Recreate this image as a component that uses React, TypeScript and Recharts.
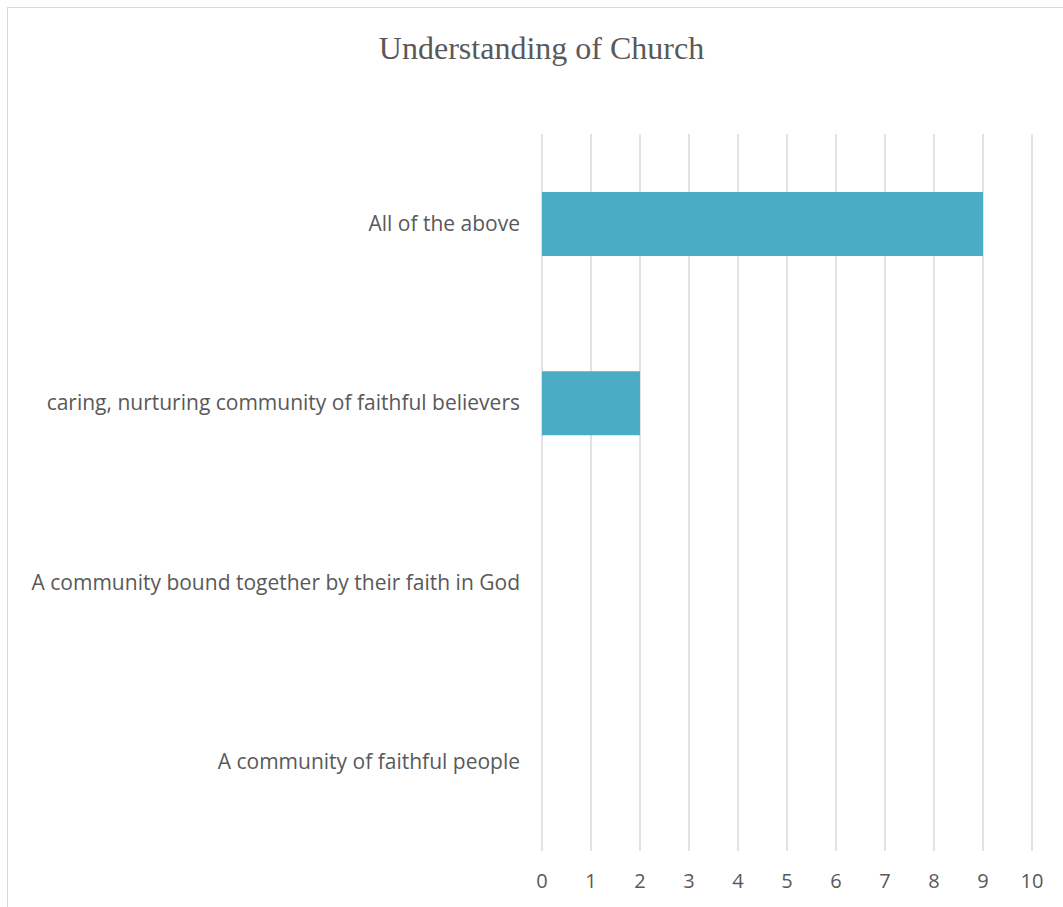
import { BarChart, Bar, XAxis, YAxis, CartesianGrid } from 'recharts';

// categories listed top to bottom as they appear in the chart
const categories = [
  'All of the above',
  'caring, nurturing community of faithful believers',
  'A community bound together by their faith in God',
  'A community of faithful people',
];
const counts = [9, 2, 0, 0];
const xTicks = [0, 1, 2, 3, 4, 5, 6, 7, 8, 9, 10];

const data = categories.map((name, i) => ({ name, value: counts[i] }));

const TEXT = '#595959';
const GRID = '#d9d9d9';
const BAR = '#4bacc6';

export default function App() {
  return (
    <div style={{ position: 'fixed', left: 0, top: 0, width: 1063, height: 907, overflow: 'hidden', background: '#fff' }}>
      <div style={{ position: 'absolute', left: 7, top: 7, width: 1100, height: 950, border: `1px solid ${GRID}` }}>
        <div
          style={{
            position: 'absolute',
            left: 0,
            top: 22,
            width: 1067,
            textAlign: 'center',
            fontFamily: '"Liberation Serif", "Times New Roman", serif',
            fontSize: 32,
            color: TEXT,
            lineHeight: '36px',
          }}
        >
          Understanding of Church
        </div>
        <BarChart
          width={1100}
          height={943}
          data={data}
          layout="vertical"
          margin={{ top: 126, right: 76, bottom: 40, left: 0 }}
          barSize={64}
        >
          <CartesianGrid horizontal={false} stroke={GRID} strokeWidth={1.5} />
          <XAxis
            type="number"
            domain={[0, 10]}
            ticks={xTicks}
            axisLine={false}
            tickLine={false}
            tickSize={0}
            tickMargin={23}
            height={60}
            tick={{ fill: TEXT, fontSize: 20, fontFamily: '"Open Sans", sans-serif' }}
          />
          <YAxis
            type="category"
            dataKey="name"
            width={534}
            axisLine={false}
            tickLine={false}
            tickSize={0}
            tickMargin={22}
            tick={{ fill: TEXT, fontSize: 21, fontFamily: '"Open Sans", sans-serif' }}
          />
          <Bar dataKey="value" fill={BAR} isAnimationActive={false} />
        </BarChart>
      </div>
    </div>
  );
}
